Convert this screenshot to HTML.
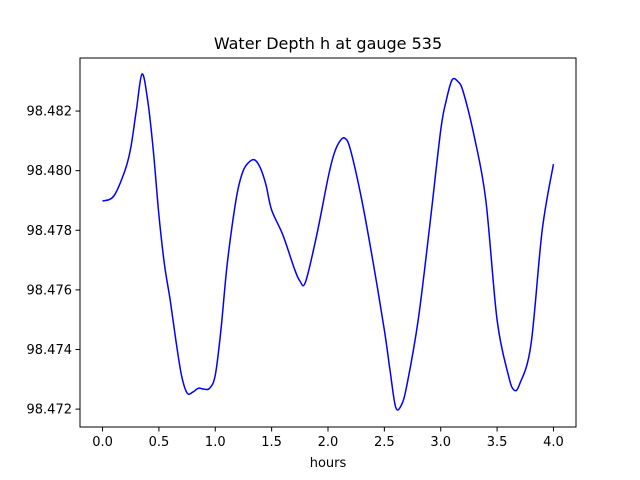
<!DOCTYPE html>
<html><head><meta charset="utf-8"><style>
html,body{margin:0;padding:0;background:#fff;}
svg{display:block;font-family:"DejaVu Sans","Liberation Sans",sans-serif;}
</style></head><body>
<svg id="chart" width="640" height="480" viewBox="0 0 640 480" xmlns="http://www.w3.org/2000/svg">
<rect x="0" y="0" width="640" height="480" fill="#fff"/>
<text x="328" y="49" text-anchor="middle" font-size="16" fill="#000">Water Depth h at gauge 535</text>
<g id="plot"></g>
<rect x="80" y="58" width="496" height="369" fill="none" stroke="#000" stroke-width="1"/>
<text x="328" y="467" text-anchor="middle" font-size="13" fill="#000">hours</text>
</svg>
<script>
const hours = [0,0.1,0.2,0.25,0.3,0.35,0.4,0.45,0.5,0.55,0.6,0.65,0.7,0.75,0.8,0.85,0.9,0.95,1.0,1.05,1.1,1.15,1.2,1.25,1.3,1.35,1.4,1.45,1.5,1.6,1.7,1.75,1.8,1.9,2.0,2.05,2.1,2.15,2.2,2.3,2.4,2.5,2.55,2.6,2.65,2.7,2.8,2.9,3.0,3.05,3.1,3.15,3.2,3.3,3.4,3.5,3.6,3.65,3.7,3.8,3.9,4.0];
const depth = [98.47898,98.47915,98.48002,98.48076,98.48203,98.48324,98.48237,98.48069,98.47851,98.47683,98.47566,98.47432,98.47314,98.47254,98.47257,98.47270,98.47267,98.47270,98.47314,98.47465,98.47666,98.47817,98.47935,98.48002,98.48029,98.48036,98.48009,98.47952,98.47868,98.47784,98.47673,98.47630,98.47626,98.47784,98.47975,98.48052,98.48096,98.48109,98.48069,98.47901,98.47693,98.47465,98.47331,98.47207,98.47213,98.47281,98.47499,98.47807,98.48136,98.48237,98.48304,98.48300,98.48264,98.48110,98.47901,98.47499,98.47314,98.47264,98.47284,98.47415,98.47800,98.48022];
const xTicks = [0,0.5,1,1.5,2,2.5,3,3.5,4];
const xTickLabels = ["0.0","0.5","1.0","1.5","2.0","2.5","3.0","3.5","4.0"];
const yTicks = [98.472,98.474,98.476,98.478,98.480,98.482];
const yTickLabels = ["98.472","98.474","98.476","98.478","98.480","98.482"];

const L=80,R=576,T=58,B=427;
const xMin=-0.2,xMax=4.2,yMin=98.47140,yMax=98.48378;
function xs(v){return L+(v-xMin)/(xMax-xMin)*(R-L);}
function ys(v){return B-(v-yMin)/(yMax-yMin)*(B-T);}
const NS="http://www.w3.org/2000/svg";
const g=document.getElementById('plot');
function mk(tag,attrs){const e=document.createElementNS(NS,tag);for(const k in attrs)e.setAttribute(k,attrs[k]);return e;}

xTicks.forEach((t,i)=>{
  const x=xs(t);
  const ln=mk('line',{x1:x,x2:x,y1:B,y2:B+4.5,stroke:'#000','stroke-width':1});
  
  
  g.appendChild(ln);
  const tx=mk('text',{x:x,y:B+19,'text-anchor':'middle','font-size':13,fill:'#000'});
  tx.textContent=xTickLabels[i];
  
  
  g.appendChild(tx);
});
yTicks.forEach((t,i)=>{
  const y=ys(t);
  const ln=mk('line',{x1:L-4.5,x2:L,y1:y,y2:y,stroke:'#000','stroke-width':1});
  
  
  g.appendChild(ln);
  const tx=mk('text',{x:L-8,y:y+4.5,'text-anchor':'end','font-size':13,fill:'#000'});
  tx.textContent=yTickLabels[i];
  
  
  g.appendChild(tx);
});
const pts=hours.map((h,i)=>[xs(h),ys(depth[i])]);
let d='M'+pts[0][0]+','+pts[0][1];
for(let i=0;i<pts.length-1;i++){
  const p0=pts[Math.max(0,i-1)],p1=pts[i],p2=pts[i+1],p3=pts[Math.min(pts.length-1,i+2)];
  const c1x=p1[0]+(p2[0]-p0[0])/6,c1y=p1[1]+(p2[1]-p0[1])/6;
  const c2x=p2[0]-(p3[0]-p1[0])/6,c2y=p2[1]-(p3[1]-p1[1])/6;
  d+=' C'+c1x+','+c1y+' '+c2x+','+c2y+' '+p2[0]+','+p2[1];
}
const path=mk('path',{d:d,fill:'none',stroke:'#0000ff','stroke-width':1.5});


g.appendChild(path);
</script>
</body></html>
